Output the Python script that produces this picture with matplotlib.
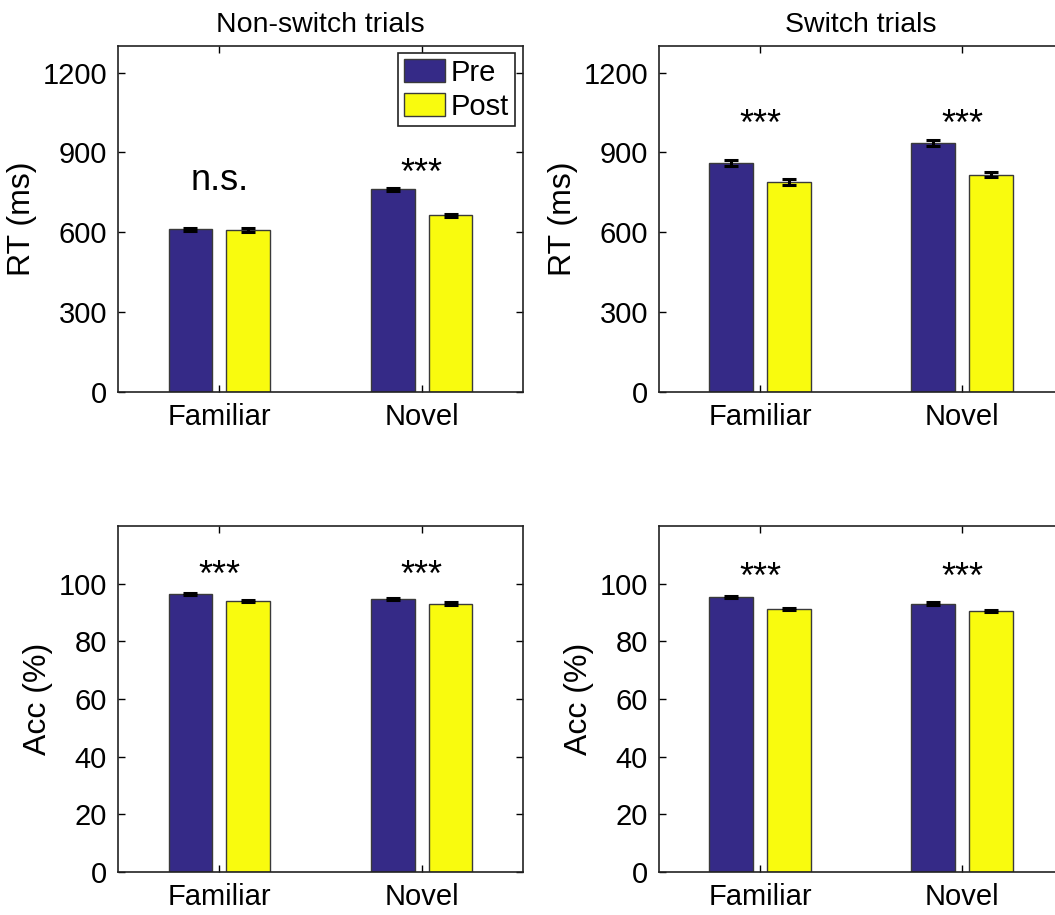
import matplotlib.pyplot as plt
import numpy as np

plt.rcParams['font.family'] = ['Liberation Sans', 'DejaVu Sans']

conditions = ["Familiar", "Novel"]
groups = ["Pre", "Post"]

# reaction times (ms): mean and s.e.m. per condition
rt_nonswitch_pre = [611, 762]
rt_nonswitch_post = [609, 664]
rt_nonswitch_pre_err = [6, 6]
rt_nonswitch_post_err = [6, 6]
rt_switch_pre = [860, 936]
rt_switch_post = [790, 816]
rt_switch_pre_err = [11, 10]
rt_switch_post_err = [11, 10]

# accuracy (%)
acc_nonswitch_pre = [96.4, 94.7]
acc_nonswitch_post = [93.9, 93.1]
acc_nonswitch_pre_err = [0.3, 0.4]
acc_nonswitch_post_err = [0.4, 0.4]
acc_switch_pre = [95.4, 93.1]
acc_switch_post = [91.2, 90.5]
acc_switch_pre_err = [0.3, 0.4]
acc_switch_post_err = [0.4, 0.4]

sig_rt_nonswitch = ["n.s.", "***"]
sig_rt_switch = ["***", "***"]
sig_acc_nonswitch = ["***", "***"]
sig_acc_switch = ["***", "***"]

pre_color = "#352A87"
post_color = "#F9FB0E"
edge = "#3a3a3a"

W, H = 1055, 915
fig = plt.figure(figsize=(W / 100, H / 100), dpi=100)


def px_axes(left, top, right, bottom):
    return fig.add_axes([left / W, 1 - bottom / H, (right - left) / W, (bottom - top) / H])


def draw_panel(ax, pre, post, pre_err, post_err, ylim, yticks, ylabel, sig, sig_y, sig_size):
    x = np.arange(1, len(conditions) + 1)
    off, width = 0.143, 0.215
    ax.bar(x - off, pre, width, color=pre_color, edgecolor=edge, linewidth=1, label=groups[0], zorder=2)
    ax.bar(x + off, post, width, color=post_color, edgecolor=edge, linewidth=1, label=groups[1], zorder=2)
    ax.errorbar(x - off, pre, yerr=pre_err, fmt='none', ecolor='black', elinewidth=2.2,
                capsize=5, capthick=2.2, zorder=3)
    ax.errorbar(x + off, post, yerr=post_err, fmt='none', ecolor='black', elinewidth=2.2,
                capsize=5, capthick=2.2, zorder=3)
    for xi, s, yi, fs in zip(x, sig, sig_y, sig_size):
        ax.text(xi, yi, s, ha='center', va='center', fontsize=fs)
    ax.set_xlim(0.5, 2.5)
    ax.set_ylim(*ylim)
    ax.set_xticks(x)
    ax.set_xticklabels(conditions)
    ax.set_yticks(yticks)
    ax.set_ylabel(ylabel, fontsize=23, labelpad=4)
    ax.tick_params(direction='in', length=5, width=1, labelsize=21, top=True, right=True, pad=8)
    for sp in ax.spines.values():
        sp.set_linewidth(1.2)
        sp.set_color('#222222')


ax1 = px_axes(118, 46, 523, 392)
draw_panel(ax1, rt_nonswitch_pre, rt_nonswitch_post, rt_nonswitch_pre_err, rt_nonswitch_post_err,
           (0, 1300), [0, 300, 600, 900, 1200], "RT (ms)", sig_rt_nonswitch, [795, 817], [26, 26])
ax1.set_title("Non-switch trials", fontsize=20.5, pad=10)
leg = ax1.legend(loc='upper right', bbox_to_anchor=(0.98, 0.98), borderaxespad=0, fontsize=21,
                 handlelength=1.4, handleheight=0.85, handletextpad=0.2, labelspacing=0.2,
                 borderpad=0.2, fancybox=False, framealpha=1)
leg.get_frame().set_edgecolor('#222222')
leg.get_frame().set_linewidth(1.2)

ax2 = px_axes(659, 46, 1063, 392)
draw_panel(ax2, rt_switch_pre, rt_switch_post, rt_switch_pre_err, rt_switch_post_err,
           (0, 1300), [0, 300, 600, 900, 1200], "RT (ms)", sig_rt_switch, [1001, 1001], [26, 26])
ax2.set_title("Switch trials", fontsize=20.5, pad=10)

ax3 = px_axes(118, 526, 523, 872)
draw_panel(ax3, acc_nonswitch_pre, acc_nonswitch_post, acc_nonswitch_pre_err, acc_nonswitch_post_err,
           (0, 120), [0, 20, 40, 60, 80, 100], "Acc (%)", sig_acc_nonswitch, [102.4, 102.4], [26, 26])

ax4 = px_axes(659, 526, 1063, 872)
draw_panel(ax4, acc_switch_pre, acc_switch_post, acc_switch_pre_err, acc_switch_post_err,
           (0, 120), [0, 20, 40, 60, 80, 100], "Acc (%)", sig_acc_switch, [101.8, 101.8], [26, 26])

fig.savefig("out.png", dpi=100)
